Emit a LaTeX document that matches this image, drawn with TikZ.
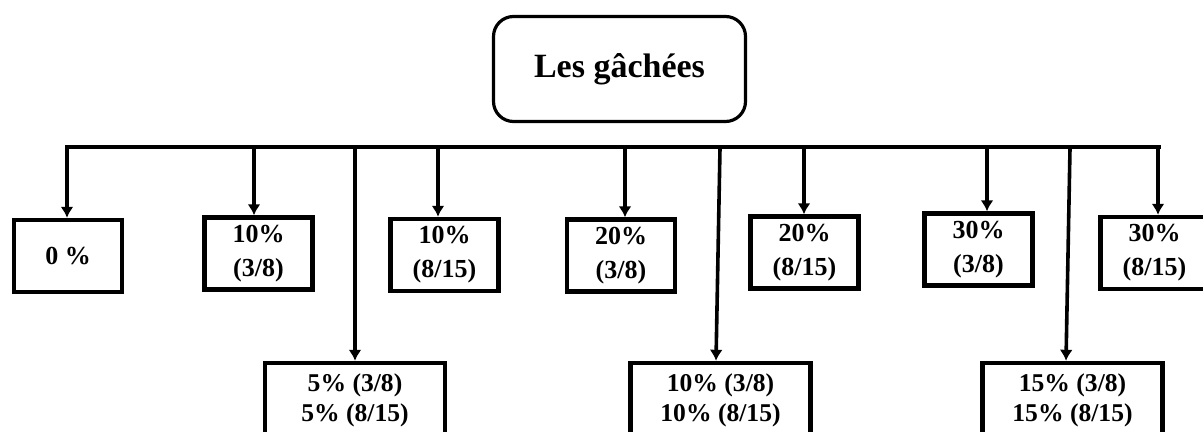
\documentclass[tikz,border=0pt]{standalone}
\usepackage{fontspec}
\setmainfont{Liberation Serif}
\usetikzlibrary{arrows.meta}

\tikzset{
  boite/.style={draw, line width=2.2pt, minimum width=54pt, minimum height=36pt, inner sep=0pt, align=center, font=\bfseries\fontsize{13}{17}\selectfont},
  grande/.style={boite, minimum width=90pt, minimum height=37pt, font=\bfseries\fontsize{12.8}{15}\selectfont},
  fleche/.style={->, line width=1.8pt}
}

\begin{document}
\begin{tikzpicture}[x=0.5pt,y=-0.5pt,>={Latex[length=5.5pt,width=6.5pt]}]
            \useasboundingbox (0,0) rectangle (1203,432);
            \clip (0,0) rectangle (1203,432);

            \node[draw, rounded corners=10pt, line width=1.6pt, minimum width=126pt, minimum height=52.5pt, font=\bfseries\fontsize{17}{20}\selectfont] (racine) at (619.5,69) {Les gâchées};

            \node[boite] (p0) at (68,256) {0 \%};
            \node[boite] (p10a) at (258.5,253.5) {10\%\\(3/8)};
            \node[boite] (p10b) at (444.5,255) {10\%\\(8/15)};
            \node[boite] (p20a) at (621,255.5) {20\%\\(3/8)};
            \node[boite] (p20b) at (804.5,252.5) {20\%\\(8/15)};
            \node[boite] (p30a) at (978.5,249.5) {30\%\\(3/8)};
            \node[boite] (p30b) at (1154.5,253) {30\%\\(8/15)};

            \node[grande] (q5) at (355,400) {5\% (3/8)\\5\% (8/15)};
            \node[grande] (q10) at (720.5,400) {10\% (3/8)\\10\% (8/15)};
            \node[grande] (q15) at (1072.5,400) {15\% (3/8)\\15\% (8/15)};

            \coordinate (gauche) at (67,147);
            \coordinate (droite) at (1159,147);
            \draw[line width=2pt, line cap=rect] (gauche) -- (droite);

            \foreach \x/\n in {67/p0,254/p10a,438/p10b,625/p20a,804/p20b,987/p30a,1158/p30b}{
                \coordinate (b\n) at (\x,147);
                \draw[fleche] (b\n) -- (b\n |- \n.north);
            }

            \coordinate (t5) at (355,147);
            \coordinate (t10) at (720,148);
            \coordinate (t15) at (1070,148);
            \draw[fleche] (t5) -- (q5.north);
            \draw[fleche] (t10) -- ([xshift=-2.25pt]q10.north);
            \draw[fleche] (t15) -- ([xshift=-3.25pt]q15.north);
        \end{tikzpicture}
\end{document}
